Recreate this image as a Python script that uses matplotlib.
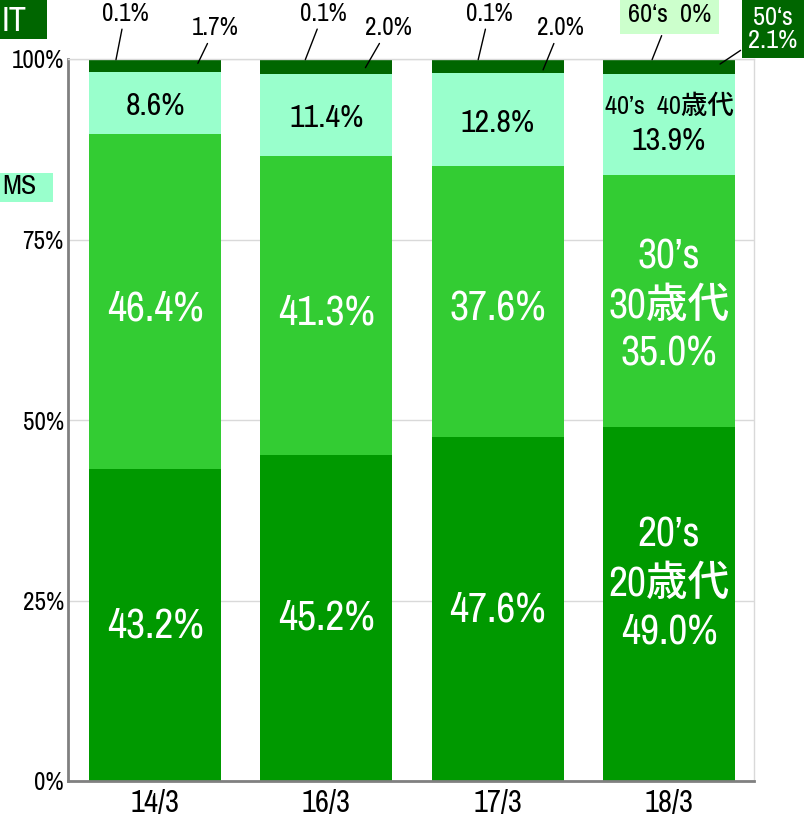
import matplotlib.pyplot as plt
from matplotlib.patches import Rectangle

plt.rcParams['font.family'] = ['Archivo Narrow', 'Noto Sans CJK JP', 'DejaVu Sans']

categories = ["14/3", "16/3", "17/3", "18/3"]
s20 = [43.2, 45.2, 47.6, 49.0]
s30 = [46.4, 41.3, 37.6, 35.0]
s40 = [8.6, 11.4, 12.8, 13.9]
s50 = [1.7, 2.0, 2.0, 2.1]
s60 = [0.1, 0.1, 0.1, 0.0]

c20 = "#009900"
c30 = "#33cc33"
c40 = "#99ffcc"
c50 = "#006600"
c60 = "#006600"

fig = plt.figure(figsize=(8.1, 8.18), dpi=100)
ax = fig.add_axes([68 / 810, 37 / 818, 686 / 810, 722 / 818])

x = list(range(len(categories)))
w = 0.77
b30 = [a for a in s20]
b40 = [a + b for a, b in zip(s20, s30)]
b50 = [a + b for a, b in zip(b40, s40)]
b60 = [a + b for a, b in zip(b50, s50)]

ax.bar(x, s20, w, color=c20, zorder=2)
ax.bar(x, s30, w, bottom=b30, color=c30, zorder=2)
ax.bar(x, s40, w, bottom=b40, color=c40, zorder=2)
ax.bar(x, s50, w, bottom=b50, color=c50, zorder=2)
ax.bar(x, s60, w, bottom=b60, color=c60, zorder=2)

ax.set_xlim(-0.508, 3.496)
ax.set_ylim(0, 100)
ax.set_yticks([0, 25, 50, 75, 100])
ax.set_yticklabels(["0%", "25%", "50%", "75%", "100%"], fontsize=18)
ax.set_xticks(x)
ax.set_xticklabels(categories, fontsize=22)
ax.tick_params(axis="y", length=0, pad=3)
ax.tick_params(axis="x", length=0, pad=6)
ax.yaxis.grid(True, color="#d9d9d9", lw=1, zorder=0)
for s in ["left", "bottom"]:
    ax.spines[s].set_color("#808080")
    ax.spines[s].set_linewidth(2)
for s in ["top", "right"]:
    ax.spines[s].set_color("#d9d9d9")
    ax.spines[s].set_linewidth(1)

# labels inside segments
for i in range(3):
    ax.text(i, s20[i] / 2, f"{s20[i]:.1f}%", ha="center", va="center", color="white", fontsize=30, zorder=3)
    ax.text(i, b30[i] + s30[i] / 2 - 1.0, f"{s30[i]:.1f}%", ha="center", va="center", color="white",
            fontsize=30, zorder=3)
    ax.text(i, b40[i] + s40[i] / 2 - 0.4, f"{s40[i]:.1f}%", ha="center", va="center", color="black",
            fontsize=23, zorder=3)

ax.text(3, s20[3] / 2 + 2.9, f"20’s\n20歳代\n{s20[3]:.1f}%", ha="center", va="center", color="white",
        fontsize=30, linespacing=1.33, zorder=3, fontweight=500)
ax.text(3, b30[3] + s30[3] / 2 - 0.6, f"30’s\n30歳代\n{s30[3]:.1f}%", ha="center", va="center", color="white",
        fontsize=30, linespacing=1.33, zorder=3, fontweight=500)
ax.text(3, b40[3] + s40[3] / 2 + 2.5, "40’s  40歳代", ha="center", va="center", color="black", fontsize=19,
        zorder=3, fontweight=500)
ax.text(3, b40[3] + s40[3] / 2 - 2.3, f"{s40[3]:.1f}%", ha="center", va="center", color="black", fontsize=23, zorder=3)

# callouts above bars: (text x offset, line end x offset, line end y)
off60 = [(-0.175, -0.228, 99.9), (-0.018, -0.123, 99.9), (-0.05, -0.114, 99.9)]
off50 = [(0.35, 0.25, 99.4), (0.362, 0.228, 98.8), (0.365, 0.265, 98.5)]
arrow = dict(arrowstyle="-", color="black", lw=1, shrinkA=1, shrinkB=0)
for i in range(3):
    tx, lx, ly = off60[i]
    ax.annotate(f"{s60[i]:.1f}%", xy=(i + lx, ly), xytext=(i + tx, 106.3), ha="center", va="center",
                fontsize=18, annotation_clip=False, arrowprops=arrow)
    tx, lx, ly = off50[i]
    ax.annotate(f"{s50[i]:.1f}%", xy=(i + lx, ly), xytext=(i + tx, 104.3), ha="center", va="center",
                fontsize=18, annotation_clip=False, arrowprops=arrow)

ax.annotate(f"60‘s  {s60[3]:.0f}%", xy=(3 - 0.099, 99.9), xytext=(3.005, 106.1), ha="center", va="center",
            fontsize=19, annotation_clip=False, arrowprops=arrow,
            bbox=dict(boxstyle="square,pad=0.3", fc="#ccffcc", ec="none"))
ax.annotate(f"50‘s\n{s50[3]:.1f}%", xy=(3 + 0.298, 99.3), xytext=(3.607, 104.2), ha="center", va="center",
            fontsize=19, color="white", linespacing=1.0, annotation_clip=False, arrowprops=arrow,
            bbox=dict(boxstyle="square,pad=0.25", fc=c50, ec="none"))

# partial legend boxes at left edge
fig.add_artist(Rectangle((0, 1 - 39 / 818), 47 / 810, 39 / 818, transform=fig.transFigure, fc=c50, ec="none"))
fig.text(14 / 810, 1 - 21 / 818, "IT", ha="center", va="center", color="white", fontsize=25)
fig.add_artist(Rectangle((0, 1 - 202 / 818), 53 / 810, 29 / 818, transform=fig.transFigure, fc=c40, ec="none"))
fig.text(19 / 810, 1 - 187 / 818, "MS", ha="center", va="center", color="black", fontsize=20)

fig.savefig("out.png", dpi=100)
